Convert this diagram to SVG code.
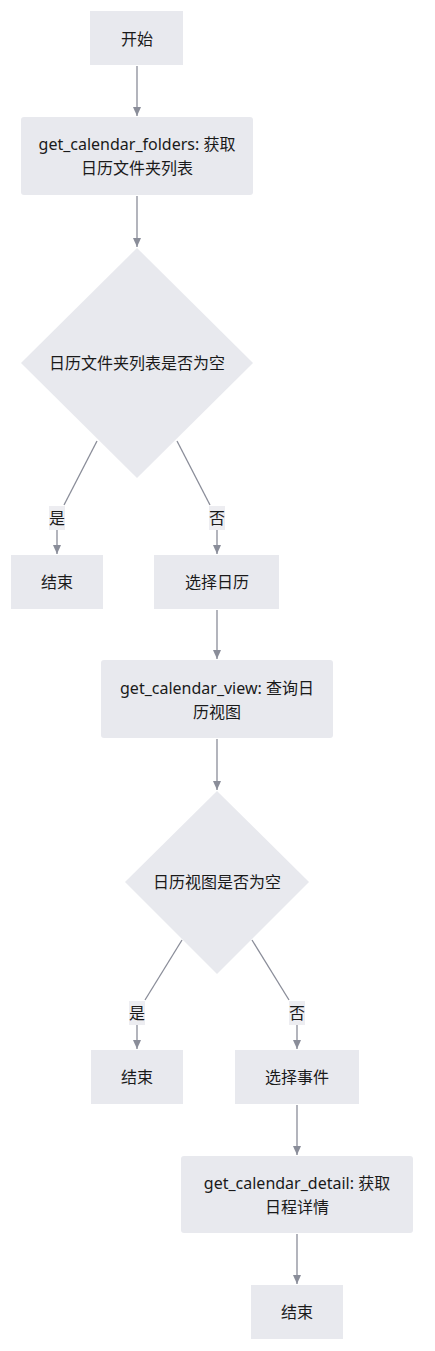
<svg xmlns="http://www.w3.org/2000/svg" width="435" height="1351" viewBox="0 0 435 1351">
<style>
.n{fill:#e8e9ee;}
.t{font-family:"Noto Sans","Noto Sans CJK SC",sans-serif;font-size:16px;fill:#1a1a1a;text-anchor:middle;dominant-baseline:central;}
.e{fill:none;stroke:#8a8d99;stroke-width:1.3;}
.lb{fill:#e8e9ee;opacity:0.8;}
</style>
<defs>
<marker id="ah" markerWidth="10" markerHeight="10" refX="9" refY="5" orient="auto" markerUnits="userSpaceOnUse">
<path d="M0,1 L9,5 L0,9 z" fill="#8a8d99"/>
</marker>
</defs>
<rect width="435" height="1351" fill="#ffffff"/>
<g id="connectors">
<path class="e" d="M137,66 V116" marker-end="url(#ah)"/>
<path class="e" d="M137,196 V247" marker-end="url(#ah)"/>
<path class="e" d="M97,441 L64,505"/>
<path class="e" d="M57,530 V554" marker-end="url(#ah)"/>
<path class="e" d="M177,441 L210,505"/>
<path class="e" d="M217,530 V554" marker-end="url(#ah)"/>
<path class="e" d="M217,610 V659" marker-end="url(#ah)"/>
<path class="e" d="M217,739 V790" marker-end="url(#ah)"/>
<path class="e" d="M182,940 L145,1000"/>
<path class="e" d="M137,1025 V1049" marker-end="url(#ah)"/>
<path class="e" d="M252,940 L289,1000"/>
<path class="e" d="M297,1025 V1049" marker-end="url(#ah)"/>
<path class="e" d="M297,1105 V1155" marker-end="url(#ah)"/>
<path class="e" d="M297,1234 V1284" marker-end="url(#ah)"/>
<g id="edge-labels">
<rect class="lb" x="49" y="506" width="16" height="24"/>
<text class="t" x="57" y="518">是</text>
<rect class="lb" x="209" y="506" width="16" height="24"/>
<text class="t" x="217" y="518">否</text>
<rect class="lb" x="129" y="1001" width="16" height="24"/>
<text class="t" x="137" y="1013">是</text>
<rect class="lb" x="289" y="1001" width="16" height="24"/>
<text class="t" x="297" y="1013">否</text>
</g>
</g>
<g id="start">
<rect class="n" x="90" y="11" width="93" height="54"/>
<text class="t" x="137" y="39">开始</text>
</g>
<g id="get_folders">
<rect class="n" x="21" y="117" width="232" height="78" rx="3"/>
<text class="t" x="137" y="144">get_calendar_folders: 获取</text>
<text class="t" x="137" y="168">日历文件夹列表</text>
</g>
<g id="dec1">
<polygon class="n" points="137,248 253,363 137,478 21,363"/>
<text class="t" x="137" y="363">日历文件夹列表是否为空</text>
</g>
<g id="end1">
<rect class="n" x="11" y="555" width="92" height="54"/>
<text class="t" x="57" y="582">结束</text>
</g>
<g id="select_cal">
<rect class="n" x="154" y="555" width="125" height="54"/>
<text class="t" x="217" y="582">选择日历</text>
</g>
<g id="get_view">
<rect class="n" x="101" y="660" width="232" height="78" rx="3"/>
<text class="t" x="217" y="688">get_calendar_view: 查询日</text>
<text class="t" x="217" y="712">历视图</text>
</g>
<g id="dec2">
<polygon class="n" points="217,791 309,882 217,974 125,882"/>
<text class="t" x="217" y="882">日历视图是否为空</text>
</g>
<g id="end2">
<rect class="n" x="91" y="1050" width="92" height="54"/>
<text class="t" x="137" y="1077">结束</text>
</g>
<g id="select_event">
<rect class="n" x="235" y="1050" width="124" height="54"/>
<text class="t" x="297" y="1077">选择事件</text>
</g>
<g id="get_detail">
<rect class="n" x="181" y="1156" width="232" height="77" rx="3"/>
<text class="t" x="297" y="1183">get_calendar_detail: 获取</text>
<text class="t" x="297" y="1207">日程详情</text>
</g>
<g id="end3">
<rect class="n" x="251" y="1285" width="92" height="54"/>
<text class="t" x="297" y="1312">结束</text>
</g>
</svg>
